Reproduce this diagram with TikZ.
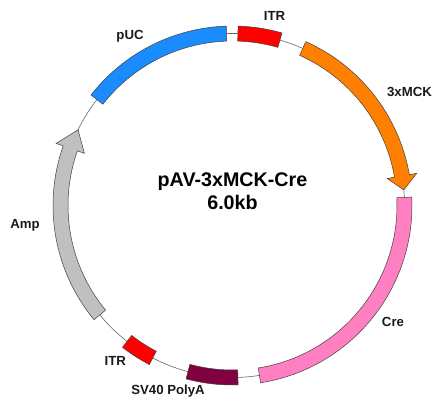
\documentclass[tikz,border=0pt]{standalone}
\usepackage{fontspec}
\setmainfont{Liberation Sans}
\usetikzlibrary{calc}
\definecolor{pucblue}{RGB}{26,140,255}
\definecolor{itrred}{RGB}{255,0,0}
\definecolor{mckorange}{RGB}{255,128,0}
\definecolor{crepink}{RGB}{255,128,192}
\definecolor{polyamaroon}{RGB}{128,0,64}
\definecolor{ampgray}{RGB}{192,192,192}
\tikzset{
  backbone/.style = {draw=black!60, line width=0.6pt},
  featbox/.style  = {draw=black!75, line width=0.5pt, line join=miter},
  featlab/.style  = {font=\bfseries\fontsize{13.2}{15}\selectfont,
                     anchor=base, text=black!90, inner sep=0pt},
  maptitle/.style = {font=\bfseries\fontsize{19.7}{22}\selectfont,
                     anchor=base, inner sep=0pt},
}

\begin{document}
\begin{tikzpicture}[x=1pt, y=1pt]
  \useasboundingbox (0,0) rectangle (442,409);
  \coordinate (hub) at (232.5,203.5);

  % backbone
  \draw[backbone] (hub) circle[radius=172];

  \begin{scope}[shift={(hub)}]
    % plain features
    \foreach \a/\b/\col in {92/142/pucblue, 74/88.2/itrred, -81/2.7/crepink,
                            -105/-88.2/polyamaroon, -127.8/-117.6/itrred}
      \draw[featbox, fill=\col] (\a:164.5) arc[start angle=\a, end angle=\b, radius=164.5]
        -- (\b:179.5) arc[start angle=\b, end angle=\a, radius=179.5] -- cycle;
    % 3xMCK arrow
    \draw[featbox, fill=mckorange] (65.9:164.5)
      arc[start angle=65.9, end angle=9.9, radius=164.5]
      -- (9.9:157) -- (5.2:172) -- (9.9:187) -- (9.9:179.5)
      arc[start angle=9.9, end angle=65.9, radius=179.5] -- cycle;
    % Amp arrow
    \draw[featbox, fill=ampgray] (219.5:164.5)
      arc[start angle=219.5, end angle=160.6, radius=164.5]
      -- (160.6:157) -- (153.9:172) -- (160.6:187) -- (160.6:179.5)
      arc[start angle=160.6, end angle=219.5, radius=179.5] -- cycle;
  \end{scope}

  % labels
  \node[featlab] (puc)  at (130,369.7)   {pUC};
  \node[featlab] (itra) at (274.5,388.3) {ITR};
  \node[featlab] (mck)  at (409.5,312.3) {3xMCK};
  \node[featlab] (amp)  at (25,180.7)    {Amp};
  \node[featlab] (cre)  at (393,82.3)    {Cre};
  \node[featlab] (itrb) at (115.3,43)    {ITR};
  \node[featlab] (sv40) at (168,14.7)    {SV40 PolyA};

  \node[maptitle] (name) at (232.5,222.5) {pAV-3xMCK-Cre};
  \node[maptitle] (size) at (232.5,199)   {6.0kb};
\end{tikzpicture}
\end{document}
